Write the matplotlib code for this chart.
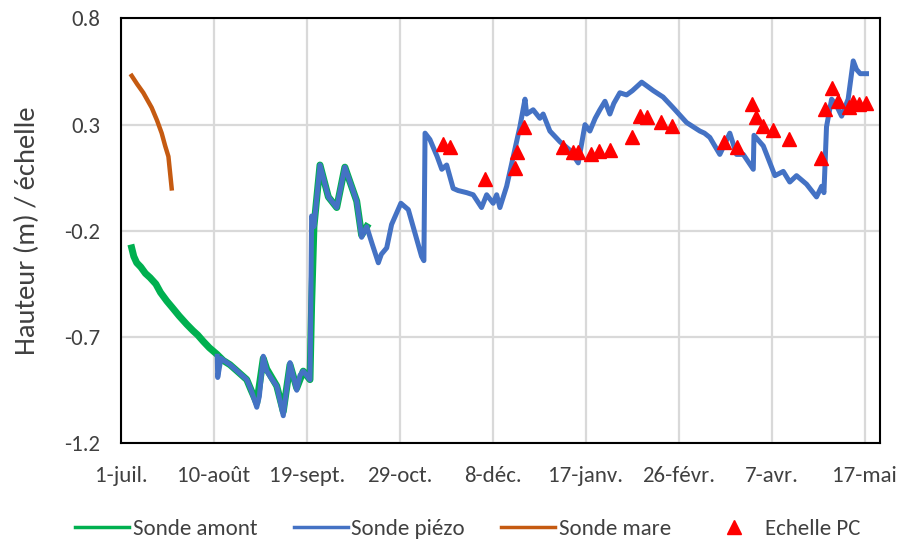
import matplotlib.pyplot as plt
from matplotlib.lines import Line2D

plt.rcParams['font.family'] = ['Carlito', 'Liberation Sans Narrow', 'DejaVu Sans']

# day offsets from 1 July
amont_x = [4.6, 5.5, 6.75, 8.5, 10.5, 12.5, 15, 17, 19.7, 22, 25, 28.3, 31, 33, 35.4, 38, 41.2,
           44, 46.9, 50, 54.1, 56, 58.4, 61.2, 62.7, 67, 69.8, 72.7, 75.6, 78.4, 81.3, 82,
           83, 85.6, 89.2, 92.8, 96.3, 101.4, 103.5, 105.7]
amont_y = [-0.28, -0.32, -0.35, -0.37, -0.40, -0.42, -0.45, -0.49, -0.53, -0.56, -0.60, -0.64,
           -0.67, -0.69, -0.72, -0.75, -0.78, -0.81, -0.83, -0.86, -0.90, -0.95, -1.01, -0.80,
           -0.85, -0.93, -1.05, -0.83, -0.94, -0.86, -0.90, -0.55, -0.18, 0.11, -0.04, -0.09,
           0.10, -0.06, -0.22, -0.18]

piezo_x = [41.4, 41.6, 43, 46.9, 50, 54.1, 56, 58.4, 59.5, 61.2, 62.7, 65, 67, 69.8, 72.7,
           74, 75.6, 77, 78.4, 81.3, 81.6, 82, 83, 85.6, 89.2, 92.8, 96.3, 101.4, 103.5,
           105.7, 108, 110.7, 112, 114.3, 116.4, 118, 120.4, 123.6, 129.3, 130.3, 130.8, 132.9,
           136, 138, 140.1, 142.9, 145, 148.7, 151.5, 155.1, 157.3, 160.1, 161.6, 163, 165.9,
           171.6, 173.8, 174.5, 177.3, 180.2, 181.6, 184.5, 188.8, 193.1, 196.7, 199.6, 201.7,
           204, 206, 208.2, 210.3, 212, 214.6, 217.5, 220, 224, 229, 233.2, 237.5, 243.3, 249,
           251, 253.3, 257.6, 261.9, 264.8, 267.7, 272, 272.3, 276.3, 281.3, 284.9, 287.7,
           290.6, 294.9, 299.2, 301.4, 302.4, 303.5, 305.7, 307.8, 310, 312.8, 315,
           316.4, 318, 320.7]
piezo_y = [-0.79, -0.89, -0.80, -0.83, -0.86, -0.90, -0.95, -1.03, -0.98, -0.79, -0.86, -0.90,
           -0.93, -1.07, -0.82, -0.88, -0.95, -0.88, -0.86, -0.90, -0.60, -0.13, -0.18, 0.11,
           -0.04, -0.09, 0.10, -0.06, -0.23, -0.18, -0.26, -0.35, -0.31, -0.28, -0.17, -0.13,
           -0.07, -0.10, -0.32, -0.34, 0.26, 0.23, 0.15, 0.09, 0.11, 0.00, -0.01, -0.02, -0.03,
           -0.09, -0.03, -0.07, -0.03, -0.09, 0.01, 0.29, 0.42, 0.35, 0.37, 0.33, 0.35, 0.27,
           0.22, 0.18, 0.12, 0.30, 0.27, 0.33, 0.37, 0.41, 0.35, 0.40, 0.45, 0.44, 0.46, 0.50,
           0.46, 0.43, 0.38, 0.31, 0.27, 0.26, 0.24, 0.16, 0.26, 0.16, 0.16, 0.09, 0.25, 0.20,
           0.06, 0.08, 0.03, 0.06, 0.02, -0.04, 0.01, -0.02, 0.29, 0.42, 0.39, 0.34, 0.42,
           0.60, 0.56, 0.54, 0.54]

mare_x = [4.6, 7, 9.6, 13.2, 15.5, 17.5, 19, 20.4, 21.8]
mare_y = [0.53, 0.49, 0.45, 0.38, 0.32, 0.26, 0.20, 0.15, 0.00]

echelle_x = [138.4, 141.5, 156.6, 169.5, 170.5, 173.3, 190.2, 194.5, 196.7, 202.4, 205.6,
             210.3, 219.8, 223.4, 226.3, 232.1, 237.1, 259.4, 265.2, 271.5, 273.1, 276.3,
             280.3, 287.3, 301.2, 302.8, 305.7, 308.5, 313.3, 315, 317.6, 320.7]
echelle_y = [0.21, 0.195, 0.046, 0.094, 0.172, 0.289, 0.195, 0.172, 0.172, 0.164, 0.176,
             0.183, 0.242, 0.342, 0.335, 0.313, 0.293, 0.219, 0.195, 0.399, 0.336, 0.293,
             0.277, 0.231, 0.141, 0.376, 0.473, 0.411, 0.383, 0.407, 0.399, 0.402]

tick_days = [0, 40, 80, 120, 160, 200, 240, 280, 320]
tick_labels = ['1-juil.', '10-août', '19-sept.', '29-oct.', '8-déc.', '17-janv.',
               '26-févr.', '7-avr.', '17-mai']
y_ticks = [-1.2, -0.7, -0.2, 0.3, 0.8]

green, blue, orange, red = '#00b050', '#4472c4', '#c55a11', '#ff0000'

fig = plt.figure(figsize=(9.03, 5.42), dpi=100)
ax = fig.add_axes([0.134, 0.182, 0.8405, 0.784])

ax.plot(amont_x, amont_y, color=green, lw=5, zorder=3)
ax.plot(piezo_x, piezo_y, color=blue, lw=3.6, zorder=4)
ax.plot(mare_x, mare_y, color=orange, lw=3.2, zorder=3)
ax.plot(echelle_x, echelle_y, ls='none', marker='^', ms=10, color=red, zorder=5)

ax.set_xlim(0, 326.5)
ax.set_ylim(-1.2, 0.8)
ax.set_xticks(tick_days)
ax.set_xticklabels(tick_labels)
ax.set_yticks(y_ticks)
ax.set_yticklabels(['-1.2', '-0.7', '-0.2', '0.3', '0.8'])
ax.tick_params(length=0, labelsize=16.5, colors='#404040')
ax.tick_params(axis='x', pad=16)
ax.tick_params(axis='y', pad=15)
ax.grid(color='#d9d9d9', lw=1.6)
ax.set_axisbelow(True)
for s in ax.spines.values():
    s.set_color('black')
    s.set_linewidth(1.5)

ax.set_ylabel('Hauteur (m) / échelle', fontsize=20.5, labelpad=17, color='#404040')

handles = [Line2D([], [], color=green, lw=2.5),
           Line2D([], [], color=blue, lw=2.5),
           Line2D([], [], color=orange, lw=2.5),
           Line2D([], [], ls='none', marker='^', ms=10, color=red)]
names = ['Sonde amont', 'Sonde piézo', 'Sonde mare', 'Echelle PC']
leg = fig.legend(handles, names, loc='center', ncol=4, frameon=False, fontsize=16.5,
                 bbox_to_anchor=(0.518, 0.024), handlelength=2.35, columnspacing=1.6,
                 handletextpad=0.15, borderpad=0, borderaxespad=0)
for t in leg.get_texts():
    t.set_color('#404040')

fig.savefig('out.png', dpi=100)
